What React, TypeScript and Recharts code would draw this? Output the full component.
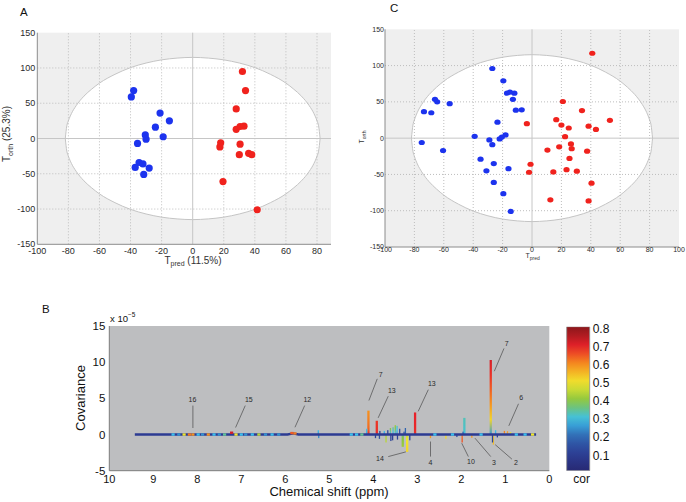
import React from 'react';
import {
  ComposedChart,
  Area,
  Bar,
  Line,
  Scatter,
  XAxis,
  YAxis,
  CartesianGrid,
  ReferenceLine,
  ReferenceDot,
} from 'recharts';

const FONT = '"Liberation Sans", Arial, Helvetica, sans-serif';

// ---- score plots (A and C) ----
const SCORE_Y_TICKS = [-150, -100, -50, 0, 50, 100, 150];
const A_X_TICKS = [-100, -80, -60, -40, -20, 0, 20, 40, 60, 80];
const C_X_TICKS = [-100, -80, -60, -40, -20, 0, 20, 40, 60, 80, 100];

// Hotelling ellipse outline
const ELLIPSE_X = [-82, -81, -80, -78, -75, -70, -65, -60, -50, -40, -30, -20, -10, 0, 10, 20, 30, 40, 50, 60, 65, 70, 75, 78, 80, 81, 82];
const ELLIPSE_HALF = [0, 18, 25, 35.5, 46.5, 60, 70, 78.5, 91, 100.5, 107, 111.5, 114, 115, 114, 111.5, 107, 100.5, 91, 78.5, 70, 60, 46.5, 35.5, 25, 18, 0];

const A_BLUE = [
  { x: -38, y: 68 }, { x: -39.5, y: 59 }, { x: -21, y: 36 }, { x: -15, y: 25 },
  { x: -24, y: 16 }, { x: -30.5, y: 5 }, { x: -30, y: -1 }, { x: -19, y: 2.5 },
  { x: -35.5, y: -7 }, { x: -34.5, y: -34 }, { x: -32, y: -36 }, { x: -37, y: -41 },
  { x: -28, y: -42 }, { x: -31.5, y: -51 },
];
const A_RED = [
  { x: 32, y: 95 }, { x: 34, y: 68 }, { x: 28, y: 42 }, { x: 28, y: 13 },
  { x: 30.5, y: 17 }, { x: 33, y: 17.5 }, { x: 18, y: -6 }, { x: 17.5, y: -12 },
  { x: 30.5, y: -8 }, { x: 30, y: -23 }, { x: 36, y: -21 }, { x: 38, y: -23 },
  { x: 19.5, y: -61 }, { x: 41.5, y: -101 },
];

const C_BLUE = [
  { x: -27, y: 96 }, { x: -19.5, y: 79 }, { x: -17, y: 62 }, { x: -15, y: 63.5 },
  { x: -12, y: 62 }, { x: -13, y: 53.5 }, { x: -11, y: 38.5 }, { x: -7, y: 39 },
  { x: -66, y: 53.5 }, { x: -64.5, y: 50 }, { x: -56, y: 47.5 }, { x: -73.5, y: 36.5 },
  { x: -68.5, y: 35 }, { x: -23.5, y: 22 }, { x: -39, y: 2.5 }, { x: -29, y: -2.5 },
  { x: -27, y: -9 }, { x: -22, y: -1 }, { x: -20.5, y: 1.5 }, { x: -18, y: 4.5 },
  { x: -75, y: -6 }, { x: -60.5, y: -17 }, { x: -35, y: -29 }, { x: -26, y: -35 },
  { x: -31, y: -45 }, { x: -16, y: -42 }, { x: -26, y: -61 }, { x: -19.5, y: -76.5 },
  { x: -14.5, y: -101 },
];
const C_RED = [
  { x: 41, y: 117 }, { x: 21, y: 50.5 }, { x: 34, y: 38 }, { x: 53, y: 24.5 },
  { x: 16.5, y: 25.5 }, { x: 20, y: 18 }, { x: -3.5, y: 20 }, { x: 25, y: 14 },
  { x: 38.5, y: 16.5 }, { x: 43.5, y: 12 }, { x: 22.5, y: 2 }, { x: 26.5, y: -8 },
  { x: 27, y: -14.5 }, { x: 18.5, y: -12 }, { x: 10.5, y: -16.5 }, { x: 37.5, y: -18 },
  { x: 25.5, y: -28 }, { x: -1, y: -36 }, { x: -2, y: -47 }, { x: 14.5, y: -46.5 },
  { x: 23.5, y: -43.5 }, { x: 30.5, y: -45.5 }, { x: 40.5, y: -62 }, { x: 12.5, y: -85 },
  { x: 38.5, y: -86.5 },
];

// ---- covariance plot (B) ----
const SHIFT_TICKS = [0, 1, 2, 3, 4, 5, 6, 7, 8, 9, 10];
const COV_TICKS = [-5, 0, 5, 10, 15];

const PEAK_SHIFT = [4.11, 3.92, 3.05, 1.33, 1.93, 3.5, 3.46, 3.55, 3.61, 3.4, 3.67, 3.75, 3.85, 3.3, 3.27, 1.22, 1.02, 0.95, 0.88, 5.25, 1.96, 4.15,
  3.23, 3.33, 3.71, 3.56, 3.45, 3.86, 3.6, 3.17, 3.95, 1.98, 1.76, 2.7, 2.35, 1.27, 1.29, 1.18, 2.1, 5.24];
const PEAK_COV = [3.3, 1.9, 3.05, 10.3, 2.3, 1.3, 1.2, 1.0, 0.9, 0.8, 0.6, 0.5, 0.5, 0.4, 0.9, 0.6, 0.5, 0.45, 0.35, 0.6, 0.4, 0.8,
  -2.4, -1.7, -1.1, -0.8, -0.7, -0.6, -0.9, -0.8, -0.5, -1.1, -0.45, -0.5, -0.6, -1.4, -1.1, -0.4, -0.35, -0.5];
// correlation at the tip and at the base of each peak
const PEAK_COR_TIP = [0.6, 0.68, 0.7, 0.72, 0.33, 0.42, 0.32, 0.35, 0.4, 0.15, 0.12, 0.3, 0.12, 0.15, 0.2, 0.3, 0.62, 0.6, 0.5, 0.3, 0.2, 0.3,
  0.52, 0.42, 0.45, 0.12, 0.12, 0.15, 0.12, 0.12, 0.12, 0.66, 0.6, 0.6, 0.52, 0.55, 0.12, 0.12, 0.15, 0.25];
const PEAK_COR_BASE = [0.7, 0.7, 0.68, 0.26, 0.3, 0.2, 0.2, 0.2, 0.2, 0.15, 0.12, 0.2, 0.12, 0.15, 0.2, 0.25, 0.55, 0.5, 0.45, 0.2, 0.2, 0.25,
  0.45, 0.35, 0.4, 0.12, 0.12, 0.15, 0.12, 0.12, 0.12, 0.6, 0.55, 0.55, 0.5, 0.5, 0.12, 0.12, 0.15, 0.2];

const BASE_SHIFT = [9.42, 8.6, 5.95, 5.82, 5.7, 4.6, 4.2, 0.3];
const BASE_COV = [0, 0, 0, 0.15, 0, 0, 0, 0];

const BLIP_SHIFT = [8.55, 8.42, 8.3, 8.18, 8.1, 7.98, 7.88, 7.75, 7.62, 7.5, 7.38, 7.22, 7.12, 7.0, 6.9, 6.75, 6.6, 6.45, 6.3, 6.15, 5.85, 5.78,
  4.5, 4.38, 4.26, 2.6, 2.2, 1.55, 0.75, 0.55, 0.38];
const BLIP_COV = [0, 0, 0, 0, 0, 0, 0, 0, 0, 0, 0, 0.25, 0, 0, 0, 0, 0, 0, 0, 0, 0.2, 0.15,
  0, 0, 0, 0, 0, 0, 0, 0, 0];
const BLIP_COR = [0.3, 0.25, 0.5, 0.62, 0.6, 0.3, 0.25, 0.6, 0.3, 0.25, 0.35, 0.72, 0.5, 0.3, 0.25, 0.3, 0.45, 0.25, 0.3, 0.25, 0.65, 0.62,
  0.3, 0.3, 0.35, 0.3, 0.3, 0.3, 0.3, 0.3, 0.5];

const ANN_TEXT = ['16', '15', '12', '7', '13', '13', '7', '6', '14', '4', '10', '3', '2'];
const ANN_X = [8.11, 6.83, 5.5, 3.83, 3.58, 2.67, 0.97, 0.64, 3.85, 2.7, 1.78, 1.26, 0.76];
const ANN_Y = [4.8, 4.9, 4.9, 8.3, 6.1, 7.0, 12.55, 5.1, -3.3, -3.8, -3.75, -3.9, -3.8];
const ANN_LINE = [
  [8.1, 4.0, 8.1, 0.9], [6.91, 4.0, 7.13, 0.97], [5.56, 4.0, 5.78, 1.0], [3.91, 7.7, 4.1, 4.7],
  [3.66, 5.3, 3.89, 2.3], [2.75, 6.2, 2.98, 3.2], [1.03, 11.9, 1.25, 8.75], [0.7, 4.25, 0.92, 1.2],
  [3.66, -3.05, 3.26, -2.4], [2.7, -0.97, 2.7, -3.05], [1.84, -3.05, 1.99, -1.2], [1.33, -3.05, 1.69, -0.5],
  [0.85, -3.4, 1.23, -1.4],
];

const COR_TICKS = [0.1, 0.2, 0.3, 0.4, 0.5, 0.6, 0.7, 0.8];
const COR_MIN = 0.015;
const COR_MAX = 0.81;
const colorbarData = [{ name: 'cor', range: [COR_MIN, COR_MAX] }];

const JET: [number, string][] = [
  [0, '#26266e'], [0.1, '#2c3b92'], [0.2, '#3064b0'], [0.3, '#3cc0ec'], [0.4, '#88c540'],
  [0.5, '#f0e62e'], [0.6, '#f6921e'], [0.7, '#e8212a'], [0.8, '#8c171b'],
];

function jet(v: number) {
  const c = Math.max(0, Math.min(0.8, v));
  let i = 0;
  while (i < JET.length - 2 && c > JET[i + 1][0]) i++;
  const [a, ca] = JET[i];
  const [b, cb] = JET[i + 1];
  const t = (c - a) / (b - a);
  const p = (h: string, k: number) => parseInt(h.slice(1 + 2 * k, 3 + 2 * k), 16);
  const mix = [0, 1, 2].map((k) => Math.round(p(ca, k) + (p(cb, k) - p(ca, k)) * t));
  return `rgb(${mix.join(',')})`;
}

const ellipseData = ELLIPSE_X.map((x, i) => ({ x, band: [-ELLIPSE_HALF[i], ELLIPSE_HALF[i]] }));
const peakData = PEAK_SHIFT.map((x, i) => ({ x, y: PEAK_COV[i] }));
const baseData = BASE_SHIFT.map((x, i) => ({ x, y: BASE_COV[i] }));
const blipData = BLIP_SHIFT.map((x, i) => ({ x, y: BLIP_COV[i], cor: BLIP_COR[i] }));

function Gradients() {
  const barStops = Array.from({ length: 17 }, (_, k) => k / 16);
  return (
    <svg width={0} height={0} style={{ position: 'absolute' }}>
      <defs>
        <linearGradient id="jetbar" x1="0" y1="0" x2="0" y2="1">
          {barStops.map((f) => (
            <stop key={f} offset={f} stopColor={jet(COR_MAX - (COR_MAX - COR_MIN) * f)} />
          ))}
        </linearGradient>
        {PEAK_COV.map((v, i) => {
          const tip = PEAK_COR_TIP[i];
          const base = PEAK_COR_BASE[i];
          const stops = [0, 0.2, 0.4, 0.6, 0.8, 1];
          return (
            <linearGradient key={i} id={`pk${i}`} x1="0" y1="0" x2="0" y2="1">
              {stops.map((f) => {
                const fromTip = v >= 0 ? f : 1 - f;
                const cor = base + (tip - base) * Math.pow(1 - fromTip, 0.35);
                return <stop key={f} offset={f} stopColor={jet(cor)} />;
              })}
            </linearGradient>
          );
        })}
      </defs>
    </svg>
  );
}

interface ScoreProps {
  width: number;
  height: number;
  margin: { top: number; right: number; bottom: number; left: number };
  xDomain: [number, number];
  xTicks: number[];
  blue: { x: number; y: number }[];
  red: { x: number; y: number }[];
  fontSize: number;
  tickGap: number;
  yTickGap: number;
  xAxisHeight: number;
  dot: [number, number];
}

function ScorePlot(p: ScoreProps) {
  const grid = '#bdbdbd';
  const axis = '#8c8c8c';
  const dotShape = (color: string) => (s: any) => (
    <ellipse cx={s.cx} cy={s.cy} rx={p.dot[0]} ry={p.dot[1]} fill={color} />
  );
  return (
    <ComposedChart width={p.width} height={p.height} margin={p.margin} data={ellipseData}>
      <CartesianGrid horizontal={false} vertical={false} fill="#efefef" />
      <XAxis
        type="number"
        dataKey="x"
        domain={p.xDomain}
        ticks={p.xTicks}
        allowDataOverflow
        height={p.xAxisHeight}
        tickSize={0}
        tickMargin={p.tickGap}
        interval={0}
        tick={{ fontSize: p.fontSize, fill: '#2a2a2a' }}
        axisLine={{ stroke: axis }}
      />
      <XAxis xAxisId="top" orientation="top" type="number" domain={p.xDomain} height={0} tick={false} tickLine={false} axisLine={{ stroke: axis }} />
      <YAxis
        type="number"
        domain={[-150, 150]}
        ticks={SCORE_Y_TICKS}
        allowDataOverflow
        width={30}
        tickSize={0}
        tickMargin={p.yTickGap}
        interval={0}
        tick={{ fontSize: p.fontSize, fill: '#2a2a2a' }}
        axisLine={{ stroke: axis }}
      />
      <YAxis yAxisId="right" orientation="right" type="number" domain={[-150, 150]} width={0} tick={false} tickLine={false} axisLine={{ stroke: axis }} />
      <Area
        type="monotone"
        dataKey="band"
        fill="#ffffff"
        fillOpacity={1}
        stroke="#c4c4c4"
        strokeWidth={1}
        dot={false}
        activeDot={false}
        isAnimationActive={false}
      />
      {p.xTicks
        .filter((t) => t !== 0 && t !== p.xDomain[0] && t !== p.xDomain[1])
        .map((t) => (
          <ReferenceLine key={`gx${t}`} x={t} stroke={grid} strokeDasharray="1 2" />
        ))}
      {SCORE_Y_TICKS.filter((t) => t !== 0 && Math.abs(t) !== 150).map((t) => (
        <ReferenceLine key={`gy${t}`} y={t} stroke={grid} strokeDasharray="1 2" />
      ))}
      <ReferenceLine x={0} stroke="#c6c6c6" />
      <ReferenceLine y={0} stroke="#c6c6c6" />
      <Scatter data={p.blue} dataKey="y" shape={dotShape('#1c33ee')} isAnimationActive={false} />
      <Scatter data={p.red} dataKey="y" shape={dotShape('#f0221d')} isAnimationActive={false} />
    </ComposedChart>
  );
}

// peaks drawn as sticks on the bar geometry the library computes
function PeakStick(s: any) {
  const top = Math.min(s.y, s.y + s.height);
  const h = Math.abs(s.height);
  const cx = s.x + s.width / 2;
  const big = Math.abs(PEAK_COV[s.index]) >= 1.5;
  const w = big ? 2.3 : 1.3;
  return <rect x={cx - w / 2} y={top} width={w} height={h} fill={`url(#pk${s.index})`} />;
}

function CovariancePlot() {
  const axis = '#7c7c7c';
  const blipShape = (s: any) => (
    <rect x={s.cx - 1.6} y={s.cy - 1.2} width={3.2} height={2.4} fill={jet(s.payload.cor)} />
  );
  return (
    <ComposedChart width={500} height={200} margin={{ top: 26, right: 10.7, bottom: 4.3, left: 19.3 }} data={peakData}>
      <CartesianGrid horizontal={false} vertical={false} fill="#bdbec0" />
      <XAxis
        type="number"
        dataKey="x"
        domain={[0, 10]}
        reversed
        ticks={SHIFT_TICKS}
        interval={0}
        allowDataOverflow
        height={25}
        tickSize={0}
        tickMargin={4}
        tick={{ fontSize: 11, fill: '#111' }}
        axisLine={{ stroke: axis }}
      />
      <XAxis xAxisId="top" orientation="top" type="number" domain={[0, 10]} reversed ticks={SHIFT_TICKS} height={0} tick={false} tickLine={false} axisLine={{ stroke: axis }} />
      <YAxis
        type="number"
        domain={[-5, 15]}
        ticks={COV_TICKS}
        interval={0}
        allowDataOverflow
        width={30}
        tickSize={0}
        tickMargin={4}
        tick={{ fontSize: 11.5, fill: '#111' }}
        axisLine={{ stroke: axis }}
      />
      <YAxis yAxisId="right" orientation="right" type="number" domain={[-5, 15]} width={0} tick={false} tickLine={false} axisLine={{ stroke: axis }} />
      <Line data={baseData} dataKey="y" stroke="#2c3b92" strokeWidth={2.4} dot={false} activeDot={false} isAnimationActive={false} />
      <Bar dataKey="y" barSize={2} shape={PeakStick} isAnimationActive={false} />
      <Scatter data={blipData} dataKey="y" shape={blipShape} isAnimationActive={false} />
      {ANN_LINE.map((l, i) => (
        <ReferenceLine
          key={`al${i}`}
          segment={[{ x: l[0], y: l[1] }, { x: l[2], y: l[3] }]}
          stroke="#4a4a4a"
          strokeWidth={0.7}
        />
      ))}
      {ANN_TEXT.map((t, i) => (
        <ReferenceDot
          key={`at${i}`}
          x={ANN_X[i]}
          y={ANN_Y[i]}
          r={0}
          stroke="none"
          fill="none"
          label={{ value: t, position: 'center', fontSize: 7, fill: '#2a2a2a' }}
        />
      ))}
    </ComposedChart>
  );
}

function ColorBar() {
  return (
    <ComposedChart
      width={126}
      height={200}
      margin={{ top: 26.7, right: 0, bottom: 29.3, left: 6.7 }}
      data={colorbarData}
      barCategoryGap={0}
    >
      <XAxis dataKey="name" hide />
      <YAxis
        type="number"
        orientation="right"
        domain={[COR_MIN, COR_MAX]}
        ticks={COR_TICKS}
        interval={0}
        allowDataOverflow
        width={96.7}
        tickSize={0}
        tickMargin={3.4}
        axisLine={false}
        tick={{ fontSize: 12, fill: '#111' }}
      />
      <Bar dataKey="range" fill="url(#jetbar)" stroke="#8a8a8a" strokeWidth={0.8} isAnimationActive={false} />
    </ComposedChart>
  );
}

export default function App() {
  const abs = (left: number, top: number): React.CSSProperties => ({ position: 'absolute', left, top });
  return (
    <div style={{ position: 'absolute', left: 0, top: 0, width: 686, height: 502, background: '#fff', fontFamily: FONT, overflow: 'hidden' }}>
      <Gradients />
      <div style={abs(0, 0)}>
        <ScorePlot
          width={340}
          height={270}
          margin={{ top: 32.7, right: 9, bottom: 5.7, left: 7.3 }}
          xDomain={[-100, 89]}
          xTicks={A_X_TICKS}
          blue={A_BLUE}
          red={A_RED}
          fontSize={9}
          tickGap={3}
          yTickGap={2}
          xAxisHeight={20}
          dot={[3.6, 3.6]}
        />
      </div>
      <div style={abs(345, 0)}>
        <ScorePlot
          width={341}
          height={270}
          margin={{ top: 29.3, right: 7, bottom: 5, left: 10 }}
          xDomain={[-100, 100]}
          xTicks={C_X_TICKS}
          blue={C_BLUE}
          red={C_RED}
          fontSize={7}
          tickGap={0}
          yTickGap={1}
          xAxisHeight={18}
          dot={[3.1, 2.6]}
        />
      </div>
      <div style={abs(60, 300)}>
        <CovariancePlot />
      </div>
      <div style={abs(560, 300)}>
        <ColorBar />
      </div>
      <svg width={686} height={502} style={{ position: 'absolute', left: 0, top: 0, pointerEvents: 'none' }} fontFamily={FONT}>
        <text x={20} y={15.5} fontSize={11.5} fill="#111">A</text>
        <text x={390} y={11.7} fontSize={11.5} fill="#111">C</text>
        <text x={42} y={313} fontSize={11.5} fill="#111">B</text>

        <text x={193} y={263.5} textAnchor="middle" fontSize={10} fill="#333">
          T<tspan fontSize={7} dy={2.5}>pred</tspan>
          <tspan dy={-2.5}> (11.5%)</tspan>
        </text>
        <text x={10} y={134} transform="rotate(-90 10 134)" textAnchor="middle" fontSize={10} fill="#333">
          T<tspan fontSize={7} dy={2.5}>orth</tspan>
          <tspan dy={-2.5}> (25.3%)</tspan>
        </text>

        <text x={532.7} y={257.5} textAnchor="middle" fontSize={7} fill="#333">
          T<tspan fontSize={5} dy={2}>pred</tspan>
        </text>
        <text x={364} y={137} transform="rotate(-90 364 137)" textAnchor="middle" fontSize={7} fill="#333">
          T<tspan fontSize={5} dy={2}>orth</tspan>
        </text>

        <text x={110} y={321.7} fontSize={9.5} fill="#111">
          x 10<tspan fontSize={6.5} dy={-4.5}>−5</tspan>
        </text>
        <text x={84.5} y={398} transform="rotate(-90 84.5 398)" textAnchor="middle" fontSize={13} fill="#111">Covariance</text>
        <text x={329} y={496} textAnchor="middle" fontSize={13} fill="#111">Chemical shift (ppm)</text>
        <text x={581.7} y={483} textAnchor="middle" fontSize={12} fill="#111">cor</text>
      </svg>
    </div>
  );
}
